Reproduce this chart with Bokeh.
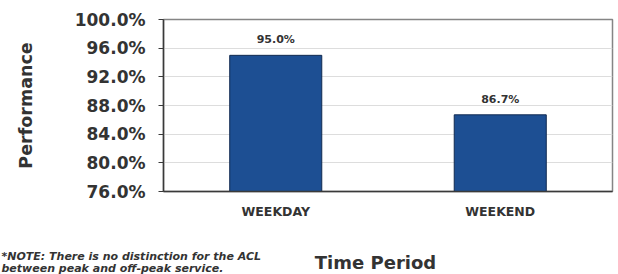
from bokeh.plotting import figure
from bokeh.layouts import column
from bokeh.models import ColumnDataSource, FixedTicker, NumeralTickFormatter, Label, LabelSet, Range1d
from bokeh.core.properties import value
from bokeh.embed import file_html
from bokeh.resources import INLINE

categories = ["WEEKDAY", "WEEKEND"]
performance = [0.950, 0.867]
y_ticks = [0.76, 0.80, 0.84, 0.88, 0.92, 0.96, 1.00]
y_axis_title = "Performance"
x_axis_title = "Time Period"
note_lines = ["*NOTE:  There is no distinction for the ACL",
              "between peak and off-peak service."]

FONT = "DejaVu Sans"
TXT = "#333333"
W = 618
H_MAIN, H_TEXT = 244, 30
FL, FB = 163, 191  # frame left / bottom in page pixels

labels = [f"{v * 100:.1f}%" for v in performance]
src = ColumnDataSource(dict(cat=categories, val=performance, lab=labels))

p = figure(x_range=categories, y_range=Range1d(y_ticks[0], y_ticks[-1]),
           width=W, height=H_MAIN, output_backend="svg", toolbar_location=None,
           min_border_left=FL, min_border_right=6, min_border_top=19,
           min_border_bottom=H_MAIN - FB)
p.frame_align = False

p.vbar(x="cat", top="val", bottom=y_ticks[0], width=0.41, source=src,
       fill_color="#1d4f93", line_color="#112a50", line_width=1)

p.add_layout(LabelSet(x="cat", y="val", text="lab", source=src, y_offset=9,
                      text_align="center", text_baseline="bottom",
                      text_font=value(FONT), text_font_style="bold", text_font_size="11px",
                      text_color=TXT))

p.outline_line_color = "#858585"
p.outline_line_width = 1.5
p.background_fill_color = "white"
p.border_fill_color = "white"

p.xgrid.grid_line_color = None
p.ygrid.grid_line_color = "#dddddd"
p.ygrid.grid_line_width = 1

ya = p.yaxis[0]
ya.ticker = FixedTicker(ticks=y_ticks)
ya.formatter = NumeralTickFormatter(format="0.0%")
ya.major_label_text_font = FONT
ya.major_label_text_font_style = "bold"
ya.major_label_text_font_size = "17px"
ya.major_label_text_color = TXT
ya.major_tick_out = 5
ya.major_tick_in = 0
ya.minor_tick_line_color = None
ya.major_label_standoff = 13
ya.axis_line_color = "#3a3a3a"
ya.axis_line_width = 1.5
ya.major_tick_line_color = "#3a3a3a"
ya.axis_label = y_axis_title
ya.axis_label_text_font = FONT
ya.axis_label_text_font_style = "bold"
ya.axis_label_text_font_size = "17.5px"
ya.axis_label_text_color = TXT
ya.axis_label_standoff = 36

xa = p.xaxis[0]
xa.major_label_text_font = FONT
xa.major_label_text_font_style = "bold"
xa.major_label_text_font_size = "12.5px"
xa.major_label_text_color = TXT
xa.major_tick_line_color = None
xa.major_tick_out = 0
xa.major_label_standoff = 12
xa.axis_line_color = "#3a3a3a"
xa.axis_line_width = 1.5

# strip below the chart holding the axis title and the footnote
t = figure(width=W, height=H_TEXT, output_backend="svg", toolbar_location=None,
           x_range=Range1d(0, W), y_range=Range1d(0, H_TEXT),
           x_axis_location=None, y_axis_location=None, min_border=0)
t.frame_align = False
t.grid.visible = False
t.outline_line_color = None
t.background_fill_color = "white"
t.border_fill_color = "white"

top = H_MAIN + H_TEXT
t.add_layout(Label(x=375, y=top - 262, x_units="screen", y_units="screen", text=x_axis_title,
                   text_align="center", text_baseline="middle",
                   text_font=FONT, text_font_style="bold", text_font_size="18px",
                   text_color=TXT))

for i, line in enumerate(note_lines):
    t.add_layout(Label(x=1, y=top - 256 - 11.5 * i, x_units="screen", y_units="screen", text=line,
                       text_align="left", text_baseline="middle",
                       text_font=FONT, text_font_style="bold italic", text_font_size="11px",
                       text_color=TXT))

layout = column(p, t, spacing=0)
open("out.html", "w").write(file_html(layout, INLINE))
